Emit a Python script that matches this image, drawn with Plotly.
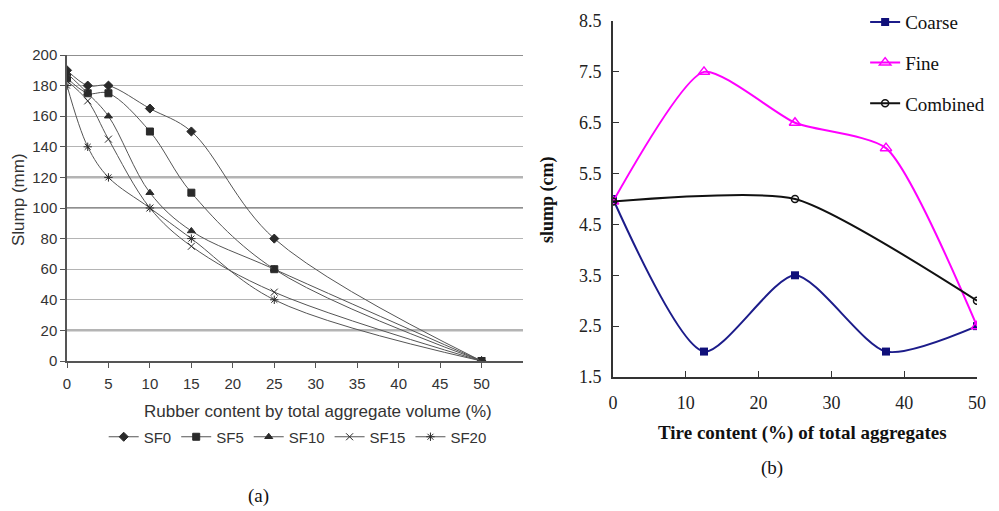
import plotly.graph_objects as go

# ---------- data (a) ----------
rubber_x = [0, 2.5, 5, 10, 15, 25, 50]
sf0 = [190, 180, 180, 165, 150, 80, 0]
sf5 = [185, 175, 175, 150, 110, 60, 0]
sf10 = [188, 175, 160, 110, 85, 60, 0]
sf15 = [183, 170, 145, 100, 75, 45, 0]
sf20 = [180, 140, 120, 100, 80, 40, 0]
a_names = ["SF0", "SF5", "SF10", "SF15", "SF20"]
a_series = [sf0, sf5, sf10, sf15, sf20]
a_symbols = ["diamond", "square", "triangle-up", "x-thin", "asterisk"]
a_ticks = [0, 5, 10, 15, 20, 25, 30, 35, 40, 45, 50]
a_yticks = [0, 20, 40, 60, 80, 100, 120, 140, 160, 180, 200]
a_dark_grid = [20, 100, 120, 200]

# ---------- data (b) ----------
tire_x = [0, 12.5, 25, 37.5, 50]
coarse = [5.0, 2.0, 3.5, 2.0, 2.5]
fine = [4.95, 7.5, 6.5, 6.0, 2.5]
comb_x = [0, 25, 50]
combined = [4.95, 5.0, 3.0]
b_yticks = [1.5, 2.5, 3.5, 4.5, 5.5, 6.5, 7.5, 8.5]
b_xticks = [0, 10, 20, 30, 40, 50]

fig = go.Figure()

for name, ys, sym in zip(a_names, a_series, a_symbols):
    fig.add_trace(go.Scatter(
        x=rubber_x, y=ys, name=name, mode="lines+markers",
        line=dict(color="#555555", width=1, shape="spline", smoothing=1.0),
        marker=dict(symbol=sym, size=7, color="#2a2a2a",
                    line=dict(color="#2a2a2a", width=1)),
        xaxis="x", yaxis="y", legend="legend"))

fig.add_trace(go.Scatter(
    x=tire_x, y=coarse, name="Coarse", mode="lines+markers",
    line=dict(color="#1c1c8a", width=2, shape="spline", smoothing=0.7),
    marker=dict(symbol="square", size=8, color="#10107a"),
    xaxis="x2", yaxis="y2", legend="legend2", legendgroup="c"))
fig.add_trace(go.Scatter(
    x=tire_x, y=fine, name="Fine", mode="lines+markers",
    line=dict(color="#ff00ff", width=2, shape="spline", smoothing=0.6),
    marker=dict(symbol="triangle-up-open", size=10, color="#ff00ff",
                line=dict(width=1.5)),
    xaxis="x2", yaxis="y2", legend="legend2", legendgroup="f"))
fig.add_trace(go.Scatter(
    x=comb_x, y=combined, name="Combined", mode="lines+markers",
    line=dict(color="#111111", width=2, shape="spline", smoothing=0.6),
    marker=dict(symbol="circle-open", size=7, color="#111111",
                line=dict(width=1.5)),
    xaxis="x2", yaxis="y2", legend="legend2", legendgroup="k"))

shapes = []
for g in a_dark_grid:
    shapes.append(dict(type="line", xref="x", yref="y", x0=0, x1=55, y0=g, y1=g,
                       line=dict(color="#6a6a6a", width=1.6), layer="below"))

sans = "Liberation Sans, Arial, sans-serif"
serif = "Liberation Serif, Times New Roman, serif"


def ann(text, px, py, font, angle=0):
    return dict(text=text, x=px / 999, y=1 - py / 511, xref="paper", yref="paper",
                xanchor="center", yanchor="middle", textangle=angle,
                showarrow=False, font=font)


fa = dict(family=sans, size=17, color="#333333")
fb = dict(family=serif, size=19, color="#111111")

fig.update_layout(
    width=999, height=511,
    margin=dict(l=0, r=0, t=0, b=0, pad=0, autoexpand=False),
    paper_bgcolor="white", plot_bgcolor="white",
    showlegend=True,
    shapes=shapes,
    xaxis=dict(domain=[67/999, 523/999], range=[0, 55], tickvals=a_ticks,
               anchor="y", automargin=False,
               showgrid=False, zeroline=False, showline=True,
               linecolor="#555555", linewidth=1.5, ticks="outside", ticklen=5,
               tickcolor="#555555", ticklabelstandoff=3,
               tickfont=dict(family=sans, size=15, color="#333333")),
    yaxis=dict(domain=[150/511, 456/511], range=[0, 200], tickvals=a_yticks,
               anchor="x", automargin=False,
               showgrid=True, gridcolor="#b4b4b4", gridwidth=1.2, zeroline=False,
               showline=True, linecolor="#555555", linewidth=1.5,
               ticks="outside", ticklen=5, tickcolor="#555555",
               tickfont=dict(family=sans, size=15, color="#333333")),
    xaxis2=dict(domain=[613/999, 977/999], range=[0, 50], tickvals=b_xticks,
                anchor="y2", automargin=False,
                showgrid=False, zeroline=False, showline=True,
                linecolor="#333333", linewidth=2, ticks="inside", ticklen=6,
                tickcolor="#333333", ticklabelstandoff=8,
                tickfont=dict(family=serif, size=18, color="#222222")),
    yaxis2=dict(domain=[134/511, 490/511], range=[1.5, 8.5], tickvals=b_yticks,
                anchor="x2", tickformat=".1f", automargin=False,
                showgrid=False, zeroline=False, showline=True,
                linecolor="#333333", linewidth=2, ticks="inside", ticklen=6,
                tickcolor="#333333", ticklabelstandoff=6,
                tickfont=dict(family=serif, size=18, color="#222222")),
    legend=dict(orientation="h", x=0.298, y=1 - 437/511, xanchor="center", yanchor="middle",
                font=dict(family=sans, size=15, color="#333333"),
                bgcolor="rgba(0,0,0,0)", itemwidth=30),
    legend2=dict(orientation="v", x=0.866, y=0.994, xanchor="left", yanchor="top",
                 font=dict(family=serif, size=19, color="#111111"),
                 bgcolor="rgba(0,0,0,0)", tracegroupgap=13, itemwidth=30),
    annotations=[
        ann("Slump (mm)", 18, 200, fa, -90),
        ann("Rubber content by total aggregate volume (%)", 318, 411, fa),
        ann("(a)", 258, 496, fb),
        ann("<b>slump (cm)</b>", 547, 200, dict(family=serif, size=18, color="#111111"), -90),
        ann("<b>Tire content (%) of total aggregates</b>", 802, 433, fb),
        ann("(b)", 772, 468, fb),
    ],
)

fig.write_html("out.html")
